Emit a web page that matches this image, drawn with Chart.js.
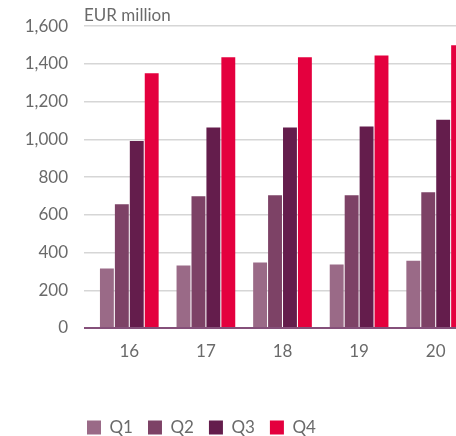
<!DOCTYPE html>
<html>
<head>
<meta charset="utf-8">
<script src="https://cdn.jsdelivr.net/npm/chart.js@4.4.1/dist/chart.umd.min.js"></script>
<style>
  html, body { margin: 0; padding: 0; background: #fff; overflow: hidden; }
  #wrap { width: 456px; height: 436px; overflow: hidden; position: relative; }
  #box { width: 480px; height: 436px; position: absolute; left: 0; top: 0; }
</style>
</head>
<body>
<div id="wrap"><div id="box"><canvas id="chart"></canvas></div></div>
<script>
const years = ["16", "17", "18", "19", "20"];
const q1 = [315, 331, 347, 336, 357];
const q2 = [656, 699, 704, 704, 720];
const q3 = [992, 1063, 1063, 1068, 1104];
const q4 = [1351, 1435, 1435, 1445, 1499];
const seriesNames = ["Q1", "Q2", "Q3", "Q4"];
const colours = ["#9a6a87", "#7d4266", "#641d4c", "#e4003e"];
const unitLabel = "EUR million";

const textColour = "#6a6a6a";
const font = { family: "Lato", size: 17 };

// unit caption above the plot, and legend nudged under the plot
const unitPlugin = {
  id: "unitLabel",
  afterLayout(chart) {
    chart.legend.left += 72;
    chart.legend.right += 72;
    chart.legend.top += 10;
    chart.legend.bottom += 10;
  },
  afterDraw(chart) {
    const ctx = chart.ctx;
    ctx.save();
    ctx.font = "17px Lato";
    ctx.fillStyle = textColour;
    ctx.textBaseline = "alphabetic";
    ctx.fillText(unitLabel, chart.chartArea.left - 7, 21);
    ctx.restore();
  }
};

const ctx = document.getElementById("chart").getContext("2d");
new Chart(ctx, {
  type: "bar",
  data: {
    labels: years,
    datasets: [q1, q2, q3, q4].map((d, i) => ({
      label: seriesNames[i],
      data: d,
      backgroundColor: colours[i],
      barPercentage: 0.93,
      categoryPercentage: 0.78
    }))
  },
  options: {
    responsive: true,
    maintainAspectRatio: false,
    animation: false,
    layout: { padding: { left: 0, right: 6, top: 26, bottom: 0 } },
    plugins: {
      tooltip: { enabled: false },
      legend: {
        position: "bottom",
        align: "start",
        labels: {
          boxWidth: 14,
          boxHeight: 14,
          padding: 15,
          color: textColour,
          font: font
        }
      }
    },
    scales: {
      x: {
        grid: { display: false },
        border: { display: false },
        ticks: { color: textColour, padding: 5, font: font },
        afterFit(scale) { scale.height = 66; }
      },
      y: {
        min: 0,
        max: 1600,
        border: { display: false },
        grid: {
          color: c => c.tick && c.tick.value === 0 ? "#85507a" : "#d6d6d6",
          lineWidth: c => c.tick && c.tick.value === 0 ? 2 : 1.5,
          tickLength: 7,
          drawTicks: true
        },
        ticks: {
          stepSize: 200,
          padding: 16,
          color: textColour,
          font: font,
          callback: v => v.toLocaleString("en-US")
        },
        afterFit(scale) { scale.width = 91; }
      }
    }
  },
  plugins: [unitPlugin]
});
</script>
</body>
</html>
